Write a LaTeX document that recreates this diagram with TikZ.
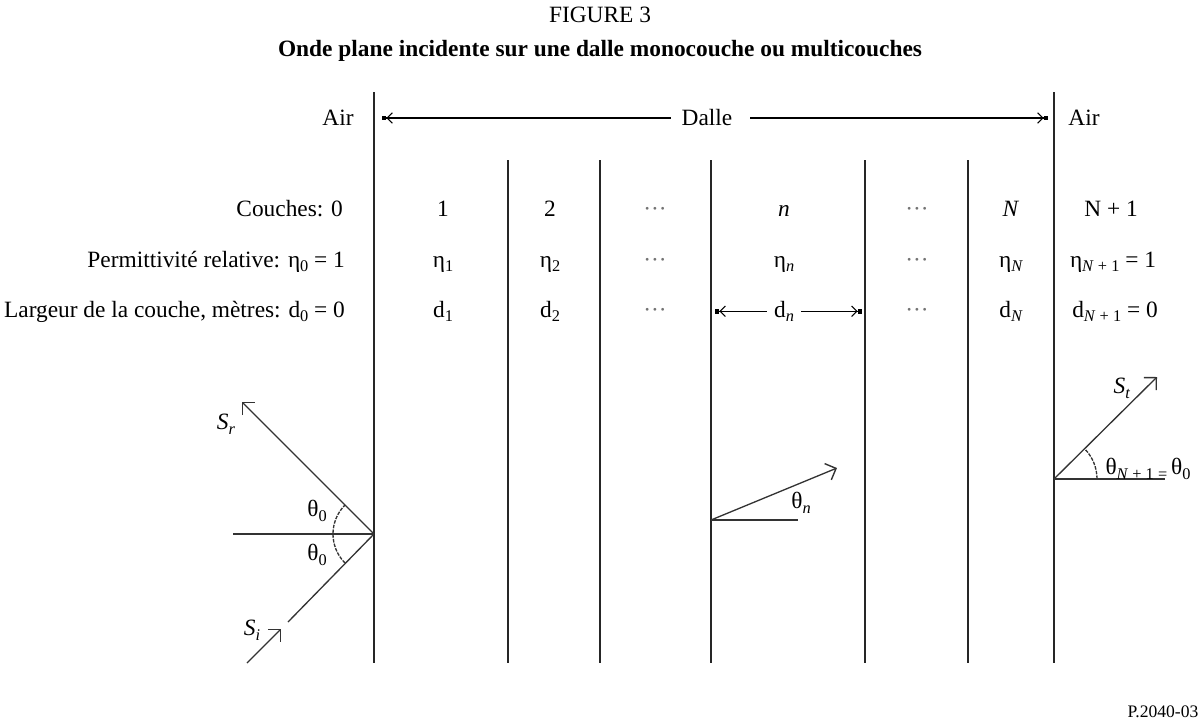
\documentclass[tikz,border=0pt]{standalone}
\usepackage{fontspec}
\setmainfont{Liberation Serif}
\usetikzlibrary{arrows.meta,positioning}

\newcommand{\lsub}[1]{\raisebox{-0.45ex}{\fontsize{9.3}{10}\selectfont #1}}

\begin{document}
\begin{tikzpicture}[x=0.02cm,y=-0.02cm,
  every node/.style={font=\fontsize{13.3}{16}\selectfont, inner sep=1pt},
  row/.style={anchor=base},
  wall/.style={line width=1pt, black!85},
  ray/.style={line width=0.75pt, black!80},
  raytip/.style={ray, -{Straight Barb[length=5pt,width=10pt,line width=0.8pt]}},
  dimtip/.style={line width=0.6pt, -{Straight Barb[length=3pt,width=6pt] Square[length=2.5pt,width=2.5pt]}},
  anglearc/.style={line width=0.75pt, black!80, dash pattern=on 2pt off 0.7pt},
  dots/.style={row, text=black!55}]

\useasboundingbox (0,0) rectangle (1201,724);

% caption
\node (fig) at (600,15) {FIGURE 3};
\node[font=\fontsize{13.3}{16}\selectfont\bfseries] (title) at (600,51)
  {Onde plane incidente sur une dalle monocouche ou multicouches};
\node[font=\fontsize{10}{12}\selectfont] (ref) at (1163,712) {P.2040-03};

% layer boundaries
\draw[wall] (374,92) -- (374,663);
\draw[wall] (1054,92) -- (1054,663);
\foreach \x in {508,600,711,865,968}
  \draw[wall] (\x,160) -- (\x,663);

% slab width
\node (airL) at (338,118) {Air};
\node[inner xsep=6pt] (dalle) at (707,118) {Dalle};
\node (airR) at (1084,118) {Air};
\coordinate (tipL) at (382,0);
\coordinate (tipR) at (1048,0);
\draw[dimtip] (dalle.west) -- (dalle.west -| tipL);
\draw[dimtip, shorten <=4pt] (dalle.east) -- (dalle.east -| tipR);

% row headings
\node[anchor=base east] (couches) at (345,216) {Couches: 0};
\node[anchor=base east] (perm) at (347,267) {Permittivité relative: η\lsub{0} = 1};
\node[anchor=base east] (larg) at (347,317) {Largeur de la couche, mètres: d\lsub{0} = 0};

% layer 1 and 2
\node[row] (c1) at (443,216) {1};
\node[row] (e1) at (443,267) {η\lsub{1}};
\node[row] (d1) at (443,317) {d\lsub{1}};
\node[row] (c2) at (550,216) {2};
\node[row] (e2) at (550,267) {η\lsub{2}};
\node[row] (d2) at (550,317) {d\lsub{2}};

% skipped layers
\foreach \y in {216,267,317} {
  \node[dots] (skipA-\y) at (655,\y) {···};
  \node[dots] (skipB-\y) at (917,\y) {···};
}

% layer n
\node[row] (cn) at (784,216) {\textit{n}};
\node[row] (en) at (784,267) {η\lsub{\textit{n}}};
\node[row, inner xsep=4pt] (dn) at (784,317) {d\lsub{\textit{n}}};
\coordinate (dnL) at (715,0);
\coordinate (dnR) at (862,0);
\draw[dimtip] (dn.west) -- (dn.west -| dnL);
\draw[dimtip] (dn.east) -- (dn.east -| dnR);

% layer N and N+1
\node[row] (cN) at (1011,216) {\textit{N}};
\node[row] (eN) at (1011,267) {η\lsub{\textit{N}}};
\node[row] (dN) at (1011,317) {d\lsub{\textit{N}}};
\node[row] (cN1) at (1111,216) {N + 1};
\node[row] (eN1) at (1113,267) {η\lsub{\textit{N} + 1} = 1};
\node[row] (dN1) at (1115,317) {d\lsub{\textit{N} + 1} = 0};

% reflection at the first face
\coordinate (refl) at (374,534);
\coordinate (nrm) at (233,534);
\coordinate (srTip) at (242,402);
\coordinate (siA) at (247,663);
\coordinate (siB) at (281,629);
\coordinate (siC) at (288,622);
\draw[ray] (nrm) -- (refl);
\draw[raytip] (refl) -- (srTip);
\draw[raytip] (siA) -- (siB);
\draw[ray] (siC) -- (refl);
\draw[anglearc] (refl) ++(135:41) arc[start angle=135, end angle=225, radius=41];
\node (sr) at (226,424) {\textit{S}\lsub{\textit{r}}};
\node (si) at (252,630) {\textit{S}\lsub{\textit{i}}};
\node (th0a) at (317,511) {θ\lsub{0}};
\node (th0b) at (317,555) {θ\lsub{0}};

% inside layer n
\coordinate (nOrig) at (711,520);
\coordinate (nEnd) at (798,520);
\coordinate (nTip) at (837,468);
\draw[ray] (nOrig) -- (nEnd);
\draw[raytip] (nOrig) -- (nTip);
\node (thn) at (801,503) {θ\lsub{\textit{n}}};

% transmitted
\coordinate (tOrig) at (1054,479);
\coordinate (tEnd) at (1165,479);
\coordinate (tTip) at (1157,377);
\draw[ray] (tOrig) -- (tEnd);
\draw[raytip] (tOrig) -- (tTip);
\draw[anglearc] (tOrig) ++(0:43) arc[start angle=0, end angle=-45, radius=43];
\node (st) at (1122,388) {\textit{S}\lsub{\textit{t}}};
\node (thN) at (1148,469) {θ\lsub{\textit{N} + 1 =}\,θ\lsub{0}};

\end{tikzpicture}
\end{document}
